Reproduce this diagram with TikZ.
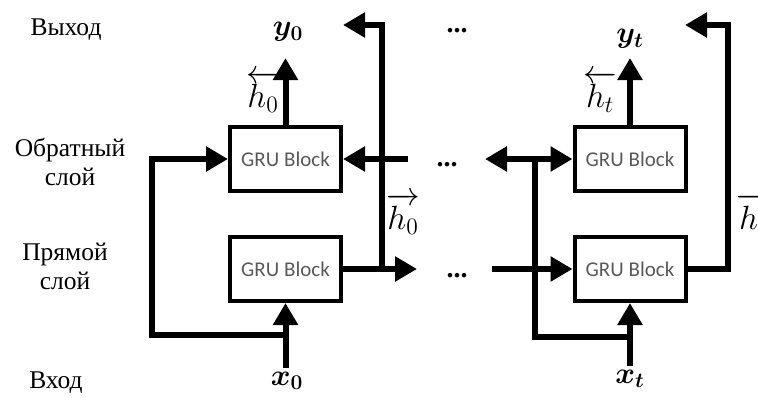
\RequirePackage{fix-cm}
\documentclass[tikz,border=0pt]{standalone}
\usepackage{amsmath,bm}
\usepackage{fontspec}
\setmainfont{Liberation Serif}
\newfontfamily\grufont{Carlito}
\usetikzlibrary{arrows.meta}
\newcommand{\varlbl}[1]{\scalebox{1.25}{$\bm{#1}$}}
\newcommand{\hlbl}[1]{\scalebox{1.4}{$#1$}}
\begin{document}
\begin{tikzpicture}[x=1pt,y=-1pt,
  blk/.style={draw,line width=4pt,minimum width=111pt,minimum height=64pt,inner sep=0pt,
    font=\grufont\fontsize{21}{24}\selectfont,text=black!65},
  wire/.style={line width=6pt},
  tip/.tip={Triangle[length=22pt,width=24pt]},
  arr/.style={wire,-tip},
  lbl/.style={font=\fontsize{25.5}{29}\selectfont,align=center,inner sep=0pt},
  var/.style={font=\fontsize{24}{26}\selectfont,inner sep=0pt},
  hh/.style={font=\fontsize{24}{26}\selectfont,inner sep=0pt},
  dots/.style={font=\fontsize{28}{30}\selectfont\bfseries,inner sep=0pt}]
\useasboundingbox (0,0) rectangle (758,397);
% left labels
\node[lbl] (lout) at (66,30) {Выход};
\node[lbl] (lback) at (70,162) {Обратный\\слой};
\node[lbl] (lfwd) at (65,266) {Прямой\\слой};
\node[lbl] (lin) at (56,383) {Вход};
% blocks
\node[blk] (b1b) at (285.5,159) {GRU Block};
\node[blk] (b1f) at (285.5,269) {GRU Block};
\node[blk] (b2b) at (630,159) {GRU Block};
\node[blk] (b2f) at (630,269) {GRU Block};
% coordinates
\coordinate (y0t) at (285.5,58);
\coordinate (x0s) at (285.5,368);
\coordinate (j1) at (285.5,335);
\coordinate (l1) at (152,159);
\coordinate (bin1) at (408,159);
\coordinate (fout1) at (417,269);
\coordinate (v1b) at (382,269);
\coordinate (v1t) at (382,25);
\coordinate (a1t) at (343,25);
\coordinate (ytt) at (630,58);
\coordinate (bl2) at (485,159);
\coordinate (v2t) at (535,159);
\coordinate (v2b) at (535,337);
\coordinate (j2) at (630,337);
\coordinate (xts) at (630,366);
\coordinate (fin2) at (492,269);
\coordinate (r2b) at (728,269);
\coordinate (r2t) at (728,25);
\coordinate (a2t) at (685,25);
% wires block 1
\draw[arr] (b1b.north) -- (y0t);
\draw[arr] (x0s) -- (b1f.south);
\draw[arr] (j1) -| (l1) -- (b1b.west);
\draw[arr] (bin1) -- (b1b.east);
\draw[arr] (b1f.east) -- (fout1);
\draw[arr] (v1b) -- (v1t) -- (a1t);
% wires block 2
\draw[arr] (b2b.north) -- (ytt);
\draw[wire,tip-tip] (bl2) -- (b2b.west);
\draw[wire] (v2t) -- (v2b) -- (j2);
\draw[arr] (xts) -- (b2f.south);
\draw[arr] (fin2) -- (b2f.west);
\draw[arr] (b2f.east) -- (r2b) -- (r2t) -- (a2t);
% variable labels
\node[var] (y0) at (288,32) {\varlbl{y_0}};
\node[var] (x0) at (287,381) {\varlbl{x_0}};
\node[var] (yt) at (630,39) {\varlbl{y_t}};
\node[var] (xt) at (630,379) {\varlbl{x_t}};
\node[hh] (h0b) at (263,92) {\hlbl{\overleftarrow{h_0}}};
\node[hh] (h0f) at (403,214) {\hlbl{\overrightarrow{h_0}}};
\node[hh] (htb) at (600,92) {\hlbl{\overleftarrow{h_t}}};
\node[hh] (htf) at (753,214) {\hlbl{\overrightarrow{h_t}}};
% dots
\node[dots] (d1) at (457,31) {...};
\node[dots] (d2) at (447,165) {...};
\node[dots] (d3) at (457,276) {...};
\end{tikzpicture}
\end{document}
